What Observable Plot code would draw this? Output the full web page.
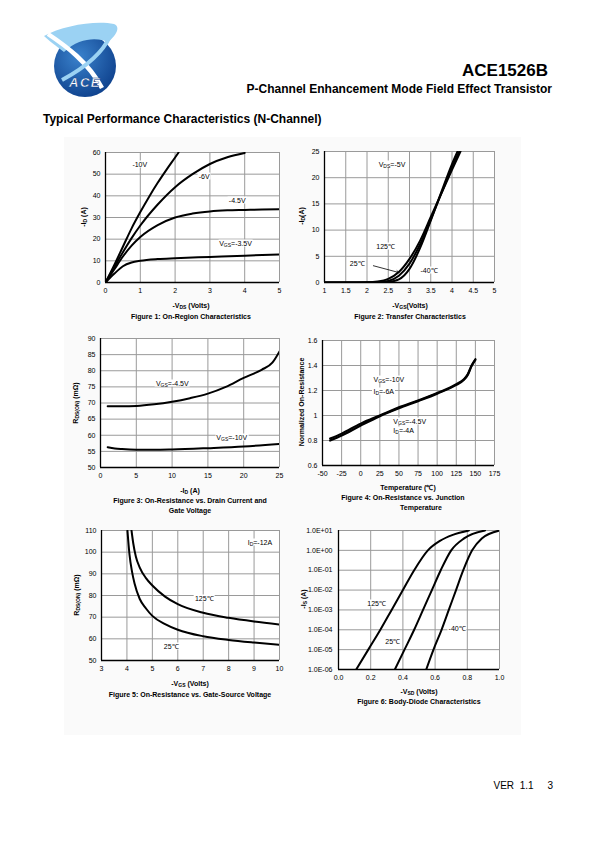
<!DOCTYPE html>
<html><head><meta charset="utf-8">
<script src="https://cdn.jsdelivr.net/npm/d3@7"></script>
<script src="https://cdn.jsdelivr.net/npm/@observablehq/plot@0.6"></script>
<style>
body{margin:0;background:#fff;font-family:"Liberation Sans",Arial,sans-serif;}
#page{position:relative;width:595px;height:842px;overflow:hidden;}
.panel{position:absolute;left:64px;top:137px;width:457px;height:598px;background:#fafafa;}
.t{position:absolute;white-space:nowrap;font-size:7px;color:#000;line-height:1;}
.t sub{font-size:5px;vertical-align:-1.5px;line-height:0}
.b{font-weight:bold}
.bg{background:#fff;padding:0 1px}
svg.chart{position:absolute;overflow:visible}
</style></head>
<body><div id="page"><div class="panel"></div></div>
<script>
// ---------- DATA ----------
// Figure 1: On-Region Characteristics (-VDS vs -ID)
const f1_m10_x = [0,0.25,0.5,0.75,1,1.25,1.5,1.75,2,2.1];
const f1_m10_y = [0,8,16.5,25,32.5,39.5,46,52,57.7,60];
const f1_m6_x  = [0,0.25,0.5,0.75,1,1.5,2,2.5,3,3.5,4];
const f1_m6_y  = [0,7,14,20.5,26.3,36,44,50,54.7,57.8,59.8];
const f1_m45_x = [0,0.25,0.5,0.75,1,1.5,2,2.5,3,3.5,4,4.5,5];
const f1_m45_y = [0,6,12,17,21,26.5,30,31.8,32.8,33.3,33.5,33.7,33.8];
const f1_m35_x = [0,0.25,0.5,0.75,1,1.5,2,3,4,5];
const f1_m35_y = [0,4,7.5,9.2,10,10.8,11.2,11.8,12.4,12.9];
// Figure 2: Transfer Characteristics
const f2_125_x = [1,1.5,2,2.25,2.5,2.75,3,3.25,3.5,3.75,4,4.2];
const f2_125_y = [0,0,0.05,0.2,0.7,2,4.5,8,12.5,17,21.5,25];
const f2_25_x  = [1,1.5,2,2.25,2.5,2.75,3,3.25,3.5,3.75,4,4.17];
const f2_25_y  = [0,0,0,0.05,0.3,1.3,3.6,7.3,12,17,22,25];
const f2_m40_x = [1,2,2.25,2.5,2.75,3,3.25,3.5,3.75,4,4.13];
const f2_m40_y = [0,0,0,0.1,0.6,2.6,6.6,11.8,17.3,22.6,25];
const f2_arrow = [2.15,3.2,2.75,1.9];
// Figure 3: On-Resistance vs Drain Current
const f3_45_x = [1,3,5,7.5,10,12.5,15,17.5,20,22.5,24,25];
const f3_45_y = [69,69,69.1,69.6,70.4,71.5,72.9,75,77.8,80.3,82.5,86];
const f3_10_x = [1,2,3,5,7.5,10,15,20,25];
const f3_10_y = [56.3,55.9,55.7,55.5,55.5,55.6,56,56.5,57.3];
// Figure 4: Normalized On-Resistance vs Temperature
const f4_t     = [-40,-25,0,25,50,75,100,125,135,140,145,150];
const f4_10_y  = [0.815,0.855,0.935,1.0,1.065,1.12,1.18,1.25,1.29,1.33,1.40,1.45];
const f4_45_y  = [0.80,0.84,0.92,0.995,1.058,1.115,1.175,1.245,1.285,1.325,1.395,1.445];
// Figure 5: On-Resistance vs Gate-Source Voltage
const f5_25_x  = [4.02,4.1,4.2,4.3,4.5,4.75,5,5.5,6,7,8,9,10];
const f5_25_y  = [110,99,91,85.5,78.5,74,70.6,66.8,64.2,61.2,59.5,58.3,57.3];
const f5_125_x = [4.18,4.25,4.35,4.5,4.75,5,5.5,6,7,8,9,10];
const f5_125_y = [110,104,98,93,88,84.6,79.5,76,72,69.7,68,66.6];
// Figure 6: Body-Diode Characteristics
const f6_125_x = [0.11,0.185,0.26,0.33,0.40,0.47,0.555,0.63,0.71,0.81];
const f6_125_y = [1e-6,1e-5,1e-4,1e-3,1e-2,1e-1,1,3,6,10];
const f6_25_x  = [0.35,0.41,0.47,0.525,0.58,0.635,0.70,0.78,0.91];
const f6_25_y  = [1e-6,1e-5,1e-4,1e-3,1e-2,1e-1,1,4,10];
const f6_m40_x = [0.545,0.59,0.64,0.685,0.73,0.775,0.83,0.89,1.0];
const f6_m40_y = [1e-6,1e-5,1e-4,1e-3,1e-2,1e-1,1,4,10];
const f6_yticks = [1e-6,1e-5,1e-4,1e-3,1e-2,1e-1,1,10];
const f6_ylabels = ["1.0E-06","1.0E-05","1.0E-04","1.0E-03","1.0E-02","1.0E-01","1.0E+00","1.0E+01"];

// ---------- HELPERS ----------
const page = document.getElementById("page");
const FONT = '"Liberation Sans", Arial, sans-serif';
const plain = d => String(d);
function zip(xs, ys){ return xs.map((x,i)=>({x, y: ys[i]})); }
function text(x, y, html, cls="", anchor="middle"){
  const d = document.createElement("div");
  d.className = "t " + cls;
  d.innerHTML = html;
  d.style.left = x + "px"; d.style.top = y + "px";
  const tx = anchor === "middle" ? "-50%" : anchor === "end" ? "-100%" : "0";
  d.style.transform = `translate(${tx},-50%)`;
  page.appendChild(d);
  return d;
}
function rotText(x, y, html, cls=""){
  const d = document.createElement("div");
  d.className = "t " + cls;
  d.innerHTML = html;
  d.style.left = x + "px"; d.style.top = y + "px";
  d.style.transform = "translate(-50%,-50%) rotate(-90deg)";
  page.appendChild(d);
}
function chart(o){
  const mL=40, mT=6, mR=8, mB=14;
  const w = o.right - o.left, h = o.bottom - o.top;
  const marks = [
    Plot.frame({fill:"white", stroke:null}),
    Plot.gridX(o.xTicks, {stroke:"#9a9a9a", strokeOpacity:1, strokeWidth:1}),
    Plot.gridY(o.yTicks, {stroke:"#9a9a9a", strokeOpacity:1, strokeWidth:1}),
    Plot.ruleX([o.xDomain[0]], {stroke:"#000", strokeWidth:1.3}),
    Plot.ruleY([o.yDomain[0]], {stroke:"#000", strokeWidth:1.3}),
    ...o.series.map(s => Plot.line(zip(s[0], s[1]), {x:"x", y:"y", stroke:"#000", strokeWidth:o.sw||2, curve:o.curve||"monotone-x", clip:true})),
    ...(o.extra||[])
  ];
  const plot = Plot.plot({
    width: w + mL + mR, height: h + mT + mB,
    marginLeft: mL, marginTop: mT, marginRight: mR, marginBottom: mB,
    style: {fontFamily: FONT, fontSize: "7px", color: "#000", background: "transparent", overflow:"visible"},
    x: {domain: o.xDomain, ticks: o.xTicks, tickFormat: o.xFmt || plain, tickSize: 0, tickPadding: 6, label: null},
    y: {type: o.yType || "linear", domain: o.yDomain, ticks: o.yTicks, tickFormat: o.yFmt || plain, tickSize: 0, tickPadding: o.yPad||5, label: null},
    marks
  });
  plot.classList.add("chart");
  const L = o.left - mL, T = o.top - mT;
  plot.style.left = L + "px"; plot.style.top = T + "px";
  page.appendChild(plot);
  const sx = plot.scale("x"), sy = plot.scale("y");
  return {
    at: (x, y, html, anchor="middle", cls="") => text(L + sx.apply(x), T + sy.apply(y), html, cls, anchor)
  };
}

// ---------- HEADER ----------
page.insertAdjacentHTML("beforeend", `
<svg style="position:absolute;left:40px;top:22px" width="85" height="78" viewBox="0 0 85 78">
  <defs><radialGradient id="lg" cx="40%" cy="35%" r="75%"><stop offset="0" stop-color="#3a82cc"/><stop offset="1" stop-color="#0b3c88"/></radialGradient></defs>
  <circle cx="45" cy="44" r="31" fill="url(#lg)"/>
  <path d="M4 14 C 22 4, 55 -2, 74 2 C 80 4, 78 12, 68 20 C 60 16, 40 14, 24 30 C 16 24, 8 18, 4 14 Z" fill="#9bd2f3"/>
  <path d="M8 12 C 26 24, 48 40, 62 66" stroke="#fff" stroke-width="4.5" fill="none"/>
  <path d="M70 14 C 64 28, 48 44, 22 58" stroke="#9bd2f3" stroke-width="4" fill="none"/>
  <text x="45" y="65" text-anchor="middle" font-family="Liberation Sans, Arial" font-weight="bold" font-style="italic" font-size="13" fill="#fff" stroke="#0b3c88" stroke-width="0.4" letter-spacing="1.5">ACE</text>
</svg>`);
text(548, 70, "ACE1526B", "b", "end").style.fontSize = "17px";
text(552, 89, "P-Channel Enhancement Mode Field Effect Transistor", "b", "end").style.fontSize = "12px";
text(43, 119, "Typical Performance Characteristics (N-Channel)", "b", "start").style.fontSize = "12px";
text(553, 786, "VER&nbsp;&nbsp;1.1&nbsp;&nbsp;&nbsp;&nbsp;&nbsp;3", "", "end").style.fontSize = "10px";

// ---------- FIGURE 1 ----------
const c1 = chart({left:105, right:279, top:152, bottom:282, xDomain:[0,5], yDomain:[0,60],
  xTicks:d3.range(0,5.01,1), yTicks:d3.range(0,61,10),
  series:[[f1_m10_x,f1_m10_y],[f1_m6_x,f1_m6_y],[f1_m45_x,f1_m45_y],[f1_m35_x,f1_m35_y]]});
c1.at(1.0, 54.5, "-10V", "middle", "bg");
c1.at(2.85, 49, "-6V", "middle", "bg");
c1.at(3.8, 38, "-4.5V", "middle", "bg");
c1.at(3.75, 18.2, "V<sub>GS</sub>=-3.5V", "middle", "bg");
rotText(83, 217, "-I<sub>D</sub> (A)", "b");
text(191, 305, "-V<sub>DS</sub> (Volts)", "b");
text(191, 316, "Figure 1: On-Region Characteristics", "b");

// ---------- FIGURE 2 ----------
const c2 = chart({left:324, right:494, top:151, bottom:282, xDomain:[1,5], yDomain:[0,25],
  xTicks:d3.range(1,5.01,0.5), yTicks:d3.range(0,26,5),
  series:[[f2_125_x,f2_125_y],[f2_25_x,f2_25_y],[f2_m40_x,f2_m40_y]],
  extra:[Plot.arrow([f2_arrow], {x1:d=>d[0], y1:d=>d[1], x2:d=>d[2], y2:d=>d[3], stroke:"#000", strokeWidth:0.8, headLength:5})]});
c2.at(2.6, 22.5, "V<sub>DS</sub>=-5V", "middle", "bg");
c2.at(2.45, 6.8, "125℃", "middle", "bg");
c2.at(1.78, 3.6, "25℃", "middle", "bg");
c2.at(3.47, 2.2, "-40℃", "middle", "bg");
rotText(301, 216, "-I<sub>D</sub>(A)", "b");
text(410, 305, "-V<sub>GS</sub>(Volts)", "b");
text(410, 316, "Figure 2: Transfer Characteristics", "b");

// ---------- FIGURE 3 ----------
const c3 = chart({left:100, right:279, top:338, bottom:467, xDomain:[0,25], yDomain:[50,90],
  xTicks:d3.range(0,26,5), yTicks:d3.range(50,91,5),
  series:[[f3_45_x,f3_45_y],[f3_10_x,f3_10_y]]});
c3.at(10.1, 76, "V<sub>GS</sub>=-4.5V", "middle", "bg");
c3.at(18.4, 59.2, "V<sub>GS</sub>=-10V", "middle", "bg");
rotText(75, 403, "R<sub>DS(ON)</sub> (mΩ)", "b");
text(190, 490, "-I<sub>D</sub> (A)", "b");
text(190, 500, "Figure 3: On-Resistance vs. Drain Current and", "b");
text(190, 510, "Gate Voltage", "b");

// ---------- FIGURE 4 ----------
const c4 = chart({left:322, right:494, top:340, bottom:465, xDomain:[-50,175], yDomain:[0.6,1.6],
  xTicks:d3.range(-50,176,25), yTicks:d3.range(0.6,1.61,0.2).map(v=>+v.toFixed(1)),
  series:[[f4_t,f4_10_y],[f4_t,f4_45_y]], sw:2.2});
c4.at(16, 1.29, "V<sub>GS</sub>=-10V", "start", "bg");
c4.at(16, 1.19, "I<sub>D</sub>=-6A", "start", "bg");
c4.at(42, 0.955, "V<sub>GS</sub>=-4.5V", "start", "bg");
c4.at(42, 0.88, "I<sub>D</sub>=-4A", "start", "bg");
rotText(301, 402, "Normalized On-Resistance", "b");
text(408, 487, "Temperature (℃)", "b");
text(403, 497, "Figure 4: On-Resistance vs. Junction", "b");
text(421, 507, "Temperature", "b");

// ---------- FIGURE 5 ----------
const c5 = chart({left:101, right:279, top:530, bottom:660, xDomain:[3,10], yDomain:[50,110],
  xTicks:d3.range(3,10.01,1), yTicks:d3.range(50,111,10),
  series:[[f5_25_x,f5_25_y],[f5_125_x,f5_125_y]]});
c5.at(9.25, 104.5, "I<sub>D</sub>=-12A", "middle", "bg");
c5.at(7.06, 78.5, "125℃", "middle", "bg");
c5.at(5.76, 56.5, "25℃", "middle", "bg");
rotText(76, 595, "R<sub>DS(ON)</sub> (mΩ)", "b");
text(190, 683, "-V<sub>GS</sub> (Volts)", "b");
text(190, 694, "Figure 5: On-Resistance vs. Gate-Source Voltage", "b");

// ---------- FIGURE 6 ----------
const c6 = chart({left:338, right:499, top:530, bottom:669, xDomain:[0,1], yDomain:[1e-6,10], yType:"log",
  xTicks:d3.range(0,1.01,0.2).map(v=>+v.toFixed(1)), yTicks:f6_yticks, xFmt:d3.format(".1f"),
  yFmt:(d)=>f6_ylabels[f6_yticks.findIndex(t=>Math.abs(Math.log10(t)-Math.log10(d))<1e-6)], yPad:6,
  series:[[f6_125_x,f6_125_y],[f6_25_x,f6_25_y],[f6_m40_x,f6_m40_y]]});
c6.at(0.24, 2e-3, "125℃", "middle", "bg");
c6.at(0.34, 2.5e-5, "25℃", "middle", "bg");
c6.at(0.74, 1.2e-4, "-40℃", "middle", "bg");
rotText(303, 599, "-I<sub>S</sub> (A)", "b");
text(419, 691, "-V<sub>SD</sub> (Volts)", "b");
text(419, 701, "Figure 6: Body-Diode Characteristics", "b");
</script></body></html>
